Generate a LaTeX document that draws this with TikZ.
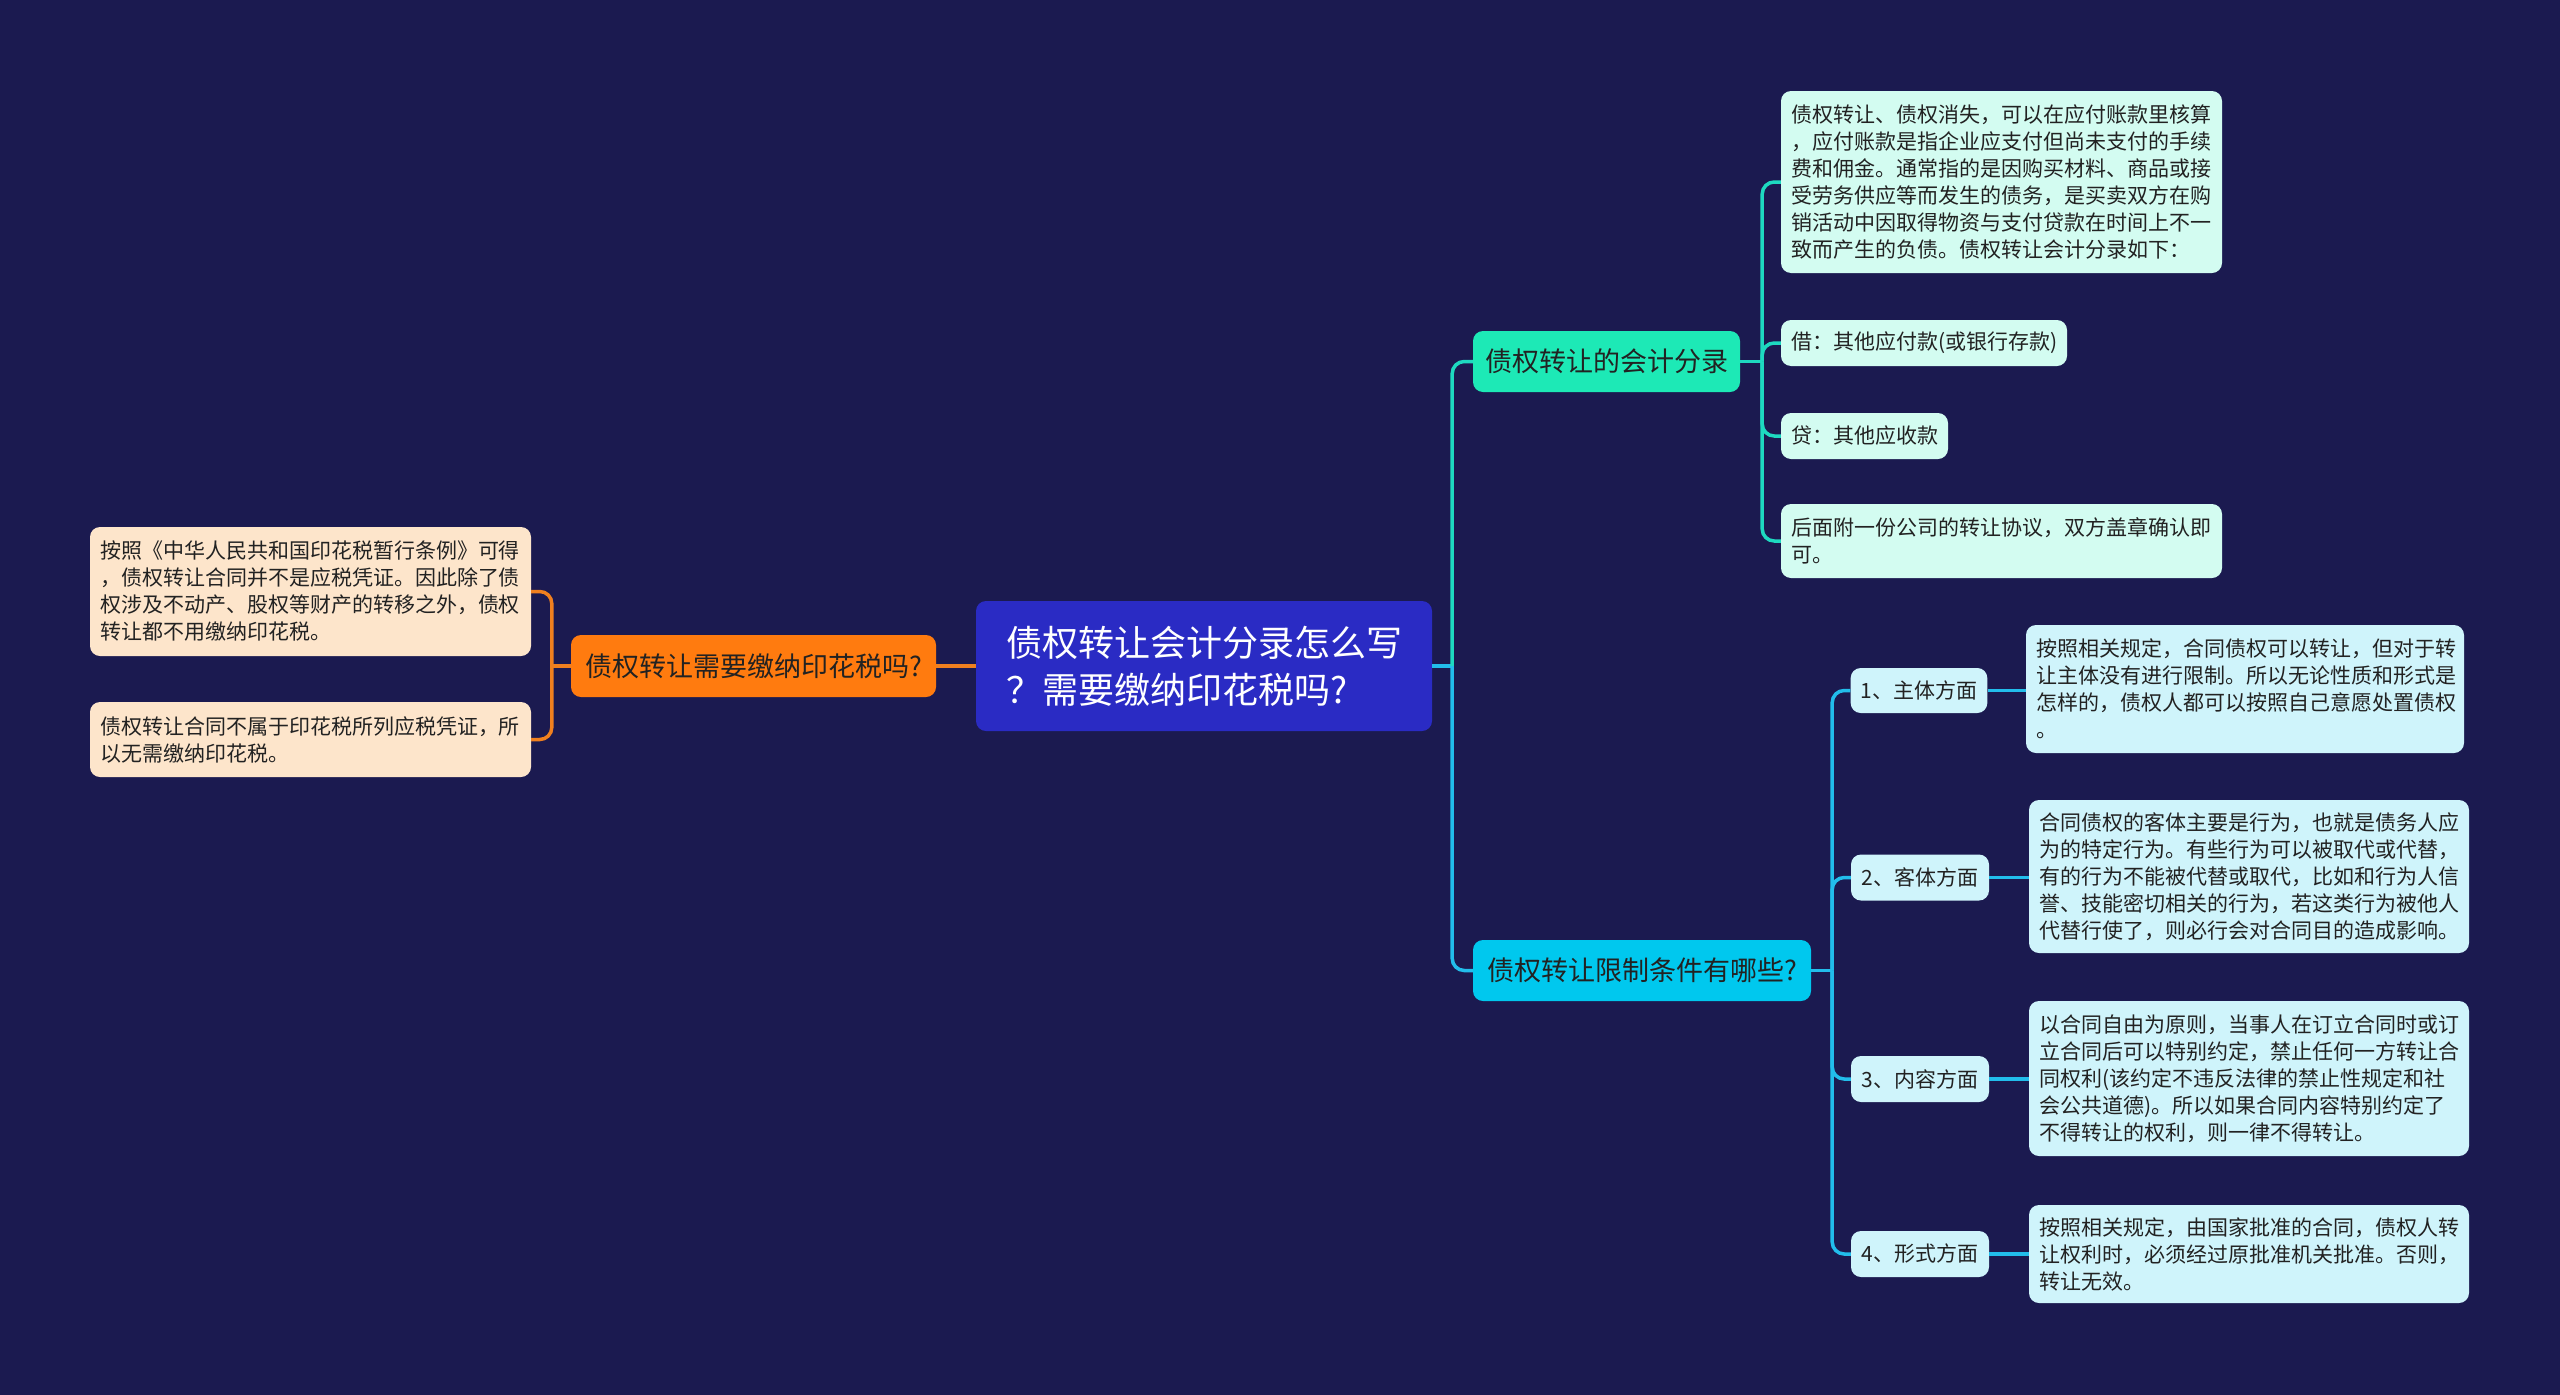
\documentclass[tikz,border=0pt]{standalone}
\usepackage{fontspec}
\setmainfont{Noto Sans CJK SC}
\definecolor{bg}{HTML}{1B1A50}
\definecolor{rootfill}{HTML}{2A2BC4}
\definecolor{orangefill}{HTML}{FF7B0F}
\definecolor{tealfill}{HTML}{1DE9B6}
\definecolor{cyanfill}{HTML}{00C8EE}
\definecolor{peach}{HTML}{FDE5CB}
\definecolor{mint}{HTML}{D3FCF1}
\definecolor{lightcyan}{HTML}{CFF4FB}
\definecolor{orangeline}{HTML}{F0801F}
\definecolor{tealline}{HTML}{1ED9C0}
\definecolor{cyanline}{HTML}{22BDEB}
\definecolor{darktext}{HTML}{222222}
\begin{document}
\begin{tikzpicture}[x=1pt,y=-1pt,
  basebox/.style={rounded corners=10pt, inner xsep=10pt, inner ysep=3pt, text=darktext},
  rootbox/.style={basebox, fill=rootfill, text=white, align=left, font=\fontsize{36pt}{47pt}\selectfont},
  midbox/.style={basebox, font=\fontsize{27pt}{34pt}\selectfont},
  leafbox/.style={basebox, align=left, font=\fontsize{21pt}{27pt}\selectfont},
  labelbox/.style={basebox, fill=lightcyan, font=\fontsize{21pt}{27pt}\selectfont},
  conn/.style={line width=3.5pt},
  oline/.style={conn, draw=orangeline},
  tline/.style={conn, draw=tealline},
  cline/.style={conn, draw=cyanline},
  rc/.style={rounded corners=12pt}
]
\useasboundingbox (0,0) rectangle (2560,1395);
\fill[bg] (0,0) rectangle (2560,1395);

% root
\node[rootbox, text width=396pt, inner xsep=30pt, minimum height=130pt] (root) at (1204,666)
  {债权转让会计分录怎么写\\？需要缴纳印花税吗?};

% left branch
\node[midbox, fill=orangefill, minimum width=365pt, minimum height=62pt] (B) at (753.5,666)
  {债权转让需要缴纳印花税吗?};
\node[leafbox, fill=peach, text width=421pt, minimum height=129pt] (L1) at (310.5,591.5)
  {按照《中华人民共和国印花税暂行条例》可得\\，债权转让合同并不是应税凭证。因此除了债\\权涉及不动产、股权等财产的转移之外，债权\\转让都不用缴纳印花税。};
\node[leafbox, fill=peach, text width=421pt, minimum height=75pt] (L2) at (310.5,739.5)
  {债权转让合同不属于印花税所列应税凭证，所\\以无需缴纳印花税。};

% right upper branch
\node[midbox, fill=tealfill, minimum width=267pt, minimum height=61pt] (A) at (1606.5,361.5)
  {债权转让的会计分录};
\node[leafbox, fill=mint, text width=421pt, minimum height=182pt] (T1) at (2001.5,182)
  {债权转让、债权消失，可以在应付账款里核算\\，应付账款是指企业应支付但尚未支付的手续\\费和佣金。通常指的是因购买材料、商品或接\\受劳务供应等而发生的债务，是买卖双方在购\\销活动中因取得物资与支付贷款在时间上不一\\致而产生的负债。债权转让会计分录如下：};
\node[leafbox, fill=mint, text width=266pt, minimum height=46pt] (T2) at (1924,343)
  {借：其他应付款(或银行存款)};
\node[leafbox, fill=mint, text width=147pt, minimum height=46pt] (T3) at (1864.5,436)
  {贷：其他应收款};
\node[leafbox, fill=mint, text width=421pt, minimum height=74pt] (T4) at (2001.5,541)
  {后面附一份公司的转让协议，双方盖章确认即\\可。};

% right lower branch
\node[midbox, fill=cyanfill, minimum width=338pt, minimum height=61pt] (Z) at (1642,970.5)
  {债权转让限制条件有哪些?};
\node[labelbox, minimum width=136pt, minimum height=45pt] (C1) at (1919,690.5) {1、主体方面};
\node[labelbox, minimum width=138pt, minimum height=46pt] (C2) at (1920,877.5) {2、客体方面};
\node[labelbox, minimum width=138pt, minimum height=46pt] (C3) at (1920,1079) {3、内容方面};
\node[labelbox, minimum width=138pt, minimum height=46pt] (C4) at (1920,1254) {4、形式方面};

\node[leafbox, fill=lightcyan, text width=418pt, minimum height=128pt] (D1) at (2245,689)
  {按照相关规定，合同债权可以转让，但对于转\\让主体没有进行限制。所以无论性质和形式是\\怎样的，债权人都可以按照自己意愿处置债权\\。};
\node[leafbox, fill=lightcyan, text width=420pt, minimum height=153pt] (D2) at (2249,876.5)
  {合同债权的客体主要是行为，也就是债务人应\\为的特定行为。有些行为可以被取代或代替，\\有的行为不能被代替或取代，比如和行为人信\\誉、技能密切相关的行为，若这类行为被他人\\代替行使了，则必行会对合同目的造成影响。};
\node[leafbox, fill=lightcyan, text width=420pt, minimum height=155pt] (D3) at (2249,1078.5)
  {以合同自由为原则，当事人在订立合同时或订\\立合同后可以特别约定，禁止任何一方转让合\\同权利(该约定不违反法律的禁止性规定和社\\会公共道德)。所以如果合同内容特别约定了\\不得转让的权利，则一律不得转让。};
\node[leafbox, fill=lightcyan, text width=420pt, minimum height=98pt] (D4) at (2249,1254)
  {按照相关规定，由国家批准的合同，债权人转\\让权利时，必须经过原批准机关批准。否则，\\转让无效。};

% connectors: left
\draw[oline] (root.west) -- (B.east);
\coordinate (jL) at ([xshift=-19pt]B.west);
\draw[oline] (B.west) -- (jL);
\draw[oline, rc] (jL) |- (L1.east);
\draw[oline, rc] (jL) |- (L2.east);

% connectors: root right
\coordinate (jR) at ([xshift=20pt]root.east);
\draw[cline] (root.east) -- (jR);
\draw[tline, rc] (jR) |- (A.west);
\draw[cline, rc] (jR) |- (Z.west);

% connectors: teal branch
\coordinate (jA) at ([xshift=22pt]A.east);
\draw[tline] (A.east) -- (jA);
\draw[tline, rc] (jA) |- (T1.west);
\draw[tline, rc] (jA) |- (T2.west);
\draw[tline, rc] (jA) |- (T3.west);
\draw[tline, rc] (jA) |- (T4.west);

% connectors: cyan branch
\coordinate (jZ) at ([xshift=21pt]Z.east);
\draw[cline] (Z.east) -- (jZ);
\draw[cline, rc] (jZ) |- (C1.west);
\draw[cline, rc] (jZ) |- (C2.west);
\draw[cline, rc] (jZ) |- (C3.west);
\draw[cline, rc] (jZ) |- (C4.west);

\draw[cline] (C1.east) -- (D1.west |- C1.east);
\draw[cline] (C2.east) -- (D2.west |- C2.east);
\draw[cline] (C3.east) -- (D3.west |- C3.east);
\draw[cline] (C4.east) -- (D4.west |- C4.east);
\end{tikzpicture}
\end{document}
